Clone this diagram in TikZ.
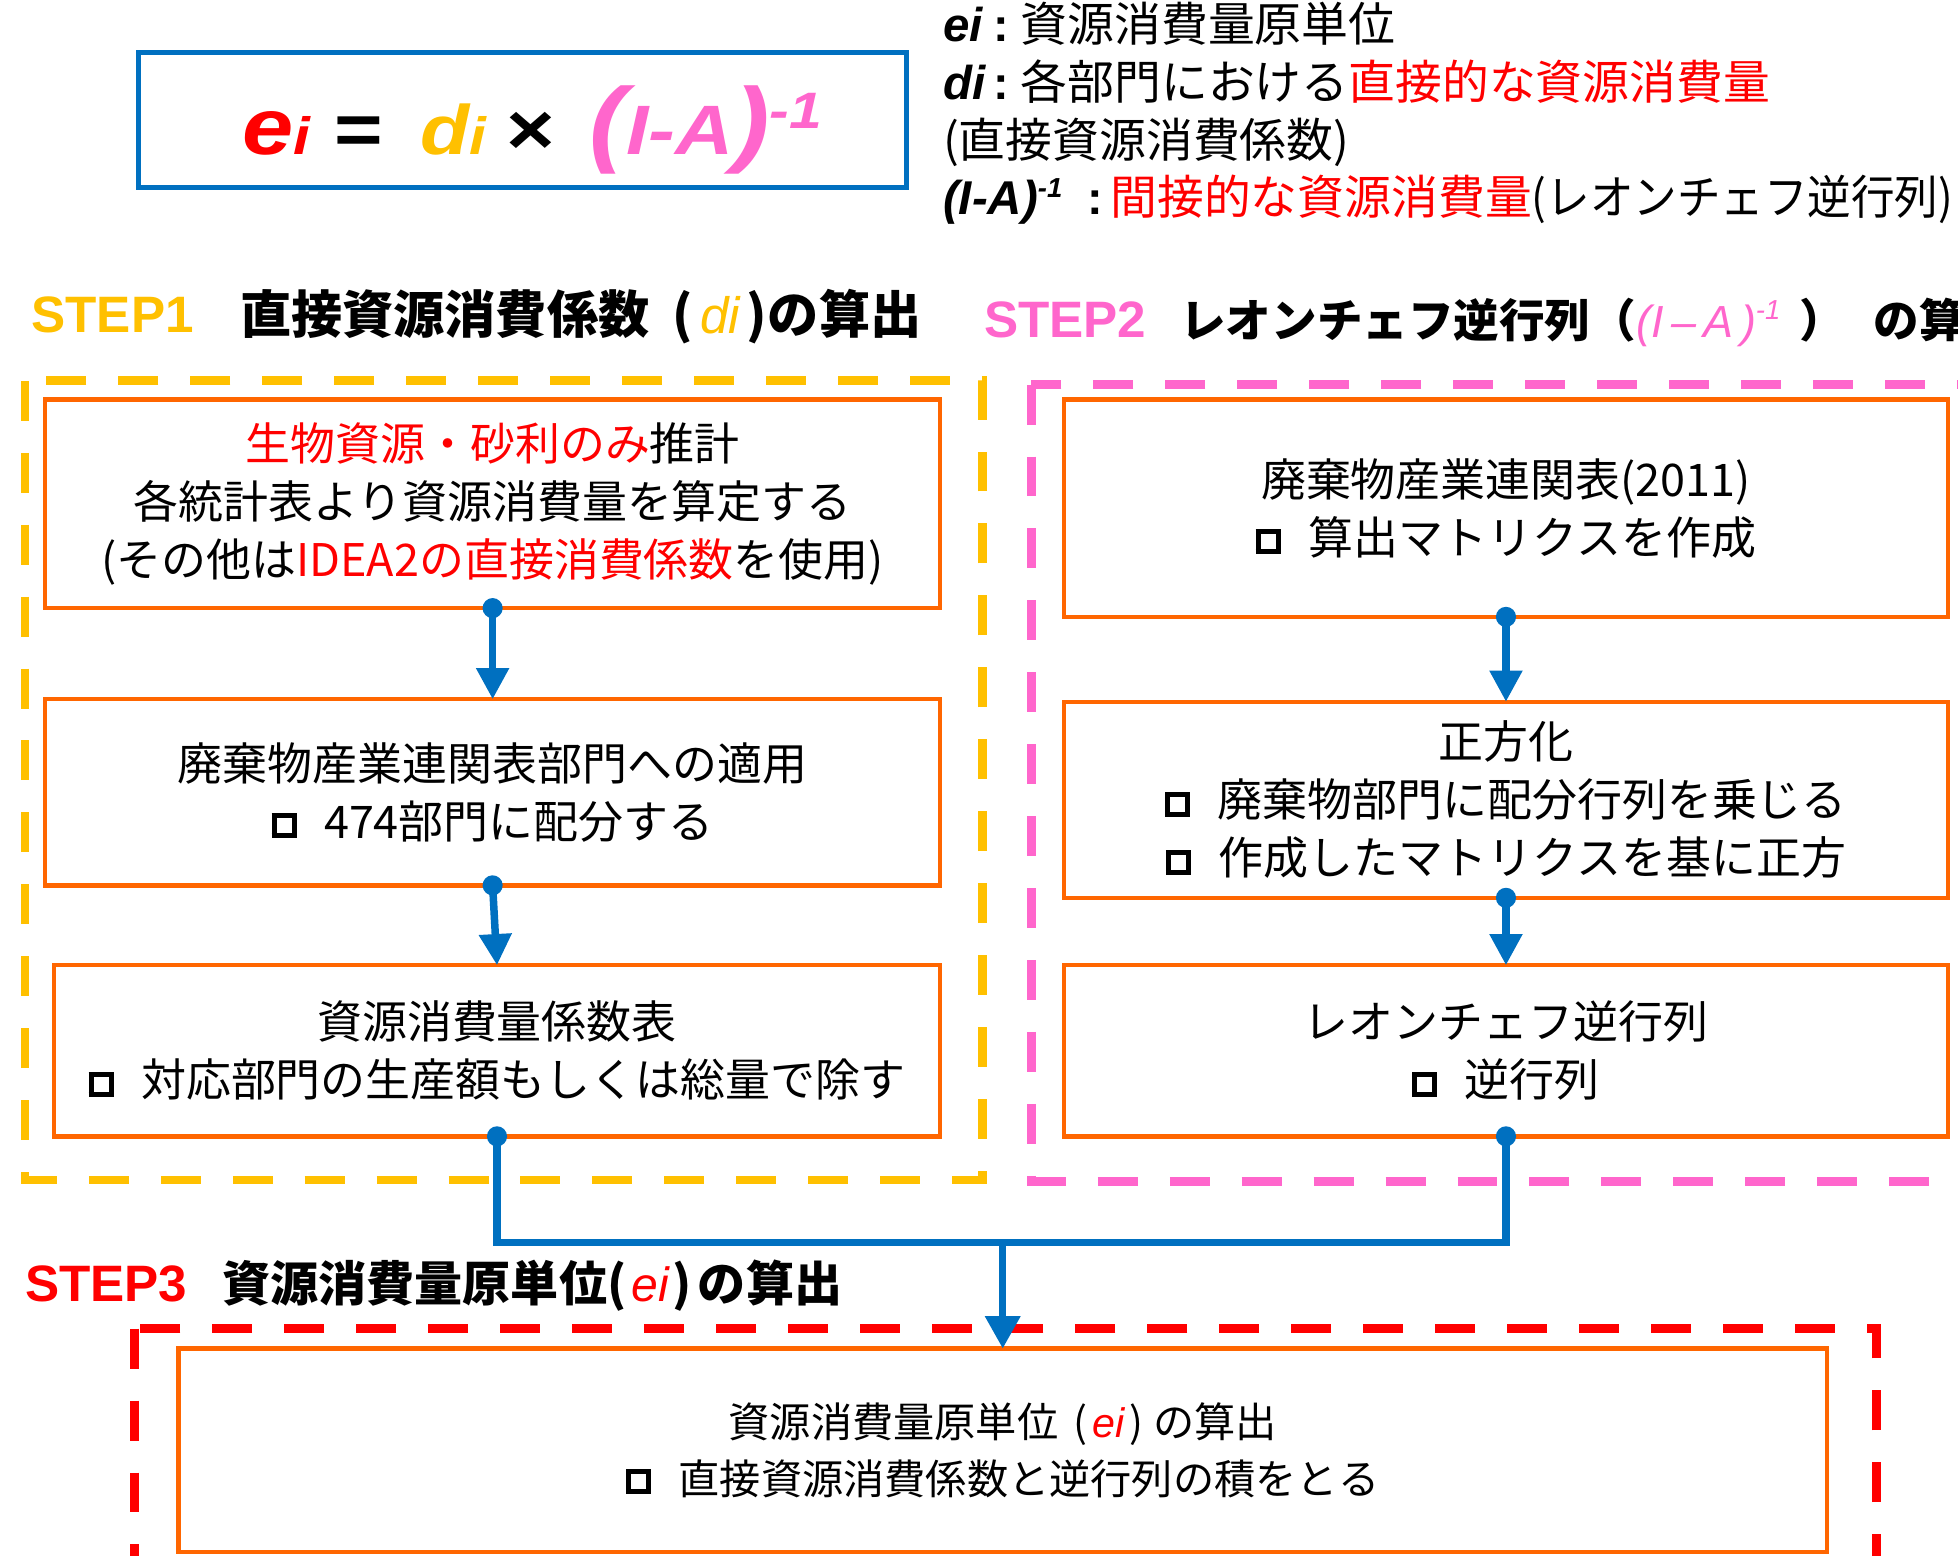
\documentclass[tikz,border=0pt]{standalone}
\usepackage{fontspec}
\setmainfont{Liberation Sans}
\newfontfamily\cjk{Noto Sans CJK JP}
\newfontfamily\lat{Liberation Sans}
\usetikzlibrary{arrows.meta}
\definecolor{fblue}{RGB}{0,112,192}
\definecolor{fyel}{RGB}{255,192,0}
\definecolor{fpink}{RGB}{255,102,204}
\definecolor{fred}{RGB}{255,0,0}
\definecolor{forange}{RGB}{255,102,0}
\newcommand\sqb{\raisebox{10pt}{\fboxsep=6pt\fboxrule=4pt\fbox{\hbox{}}}\hspace{22pt}}
\newcommand\lbi[1]{{\lat\bfseries\itshape\fontsize{38}{38}\selectfont #1}}
\newcommand\li[1]{{\lat\itshape #1}}
\tikzset{
  obox/.style={draw=forange, line width=3.5pt, inner sep=0pt, outer sep=0pt, align=center,
    font={\cjk\fontsize{36}{46.5}\selectfont}},
  leg/.style={anchor=base west, inner sep=0pt, font={\cjk\fontsize{37.5}{37.5}\selectfont}},
  stepl/.style={anchor=base west, inner sep=0pt, font={\lat\bfseries\fontsize{41}{41}\selectfont}},
  stept/.style={anchor=base west, inner sep=0pt},
  dashbox/.style={line width=7pt, dash pattern=on 32pt off 25.6pt},
  conn/.style={draw=fblue, line width=6pt, {Circle[length=16pt,width=16pt]}-{Triangle[length=25pt,width=25pt]}, shorten <=-8pt},
  mline/.style={draw=fblue, line width=6pt, {Circle[length=16pt,width=16pt]}-{Circle[length=16pt,width=16pt]}, shorten <=-8pt, shorten >=-8pt},
  arrline/.style={draw=fblue, line width=6pt, -{Triangle[length=26pt,width=27pt]}},
}
\begin{document}
\begin{tikzpicture}[x=1pt,y=-1pt]
\useasboundingbox (0,0) rectangle (1568,1246);
\fill[white] (0,0) rectangle (1568,1246);
\clip (0,0) rectangle (1568,1246);

% formula box
\node[draw=fblue, line width=4pt, minimum width=615pt, minimum height=108pt, inner sep=0pt] (fb) at (418.5,96) {};
\node[anchor=base west, inner sep=0pt, font=\lat\bfseries\itshape] (ft) at (194,124) {\scalebox{1.15}[1]{%
{\color{fred}\fontsize{64}{64}\selectfont e\fontsize{42}{42}\selectfont i}%
\hspace{17pt}{\upshape\fontsize{58}{58}\selectfont =}\hspace{26pt}%
{\color{fyel}\fontsize{56}{56}\selectfont d\fontsize{42}{42}\selectfont i}%
\hspace{14pt}{\upshape\fontsize{58}{58}\selectfont ×}\hspace{24pt}%
{\color{fpink}{\fontsize{76}{76}\selectfont (}{\fontsize{56}{56}\selectfont I-A}{\fontsize{76}{76}\selectfont )}\raisebox{21pt}{\fontsize{41}{41}\selectfont -1}}}};

% legend
\node[leg] (l1) at (755,33) {\lbi{ei}\hspace{9pt}{\lat\bfseries :}\hspace{9pt}資源消費量原単位};
\node[leg] (l2) at (755,80) {\lbi{di}\hspace{7pt}{\lat\bfseries :}\hspace{9pt}各部門における{\color{fred}直接的な資源消費量}};
\node[leg] (l3) at (755,126) {(直接資源消費係数)};
\node[leg] (l4) at (755,172) {\lbi{(I-A)}\raisebox{14pt}{\lat\bfseries\itshape\fontsize{22}{22}\selectfont -1}\hspace{20pt}{\lat\bfseries :}\hspace{6pt}{\color{fred}間接的な資源消費量}\scalebox{0.93}[1]{(レオンチェフ逆行列)}};

% headings
\node[stepl, text=fyel] (h1s) at (25,266) {STEP1};
\node[stept, font={\cjk\bfseries\fontsize{41}{41}\selectfont}] (h1t) at (192,267) {直接資源消費係数\hspace{18pt}(\hspace{6pt}{\lat\mdseries\itshape\color{fyel}di}\hspace{5pt})\hspace{1pt}の算出};
\node[stepl, text=fpink] (h2s) at (788,270) {STEP2};
\node[stept, font={\cjk\bfseries\fontsize{36.5}{36.5}\selectfont}] (h2t) at (945,270) {レオンチェフ逆行列（{\lat\mdseries\itshape\color{fpink}\fontsize{36}{36}\selectfont (I\,–\,A\,)\raisebox{14pt}{\fontsize{22}{22}\selectfont -1}}\hspace{15pt}）\hspace{23pt}の算出};
\node[stepl, text=fred] (h3s) at (20,1042) {STEP3};
\node[stept, font={\cjk\bfseries\fontsize{38.5}{38.5}\selectfont}] (h3t) at (178,1042) {資源消費量原単位(\hspace{4pt}{\lat\mdseries\itshape\color{fred}ei}\hspace{3pt})\hspace{5pt}の算出};

% dashed group frames
\draw[dashbox, fyel] (20,305) rectangle (787,945);
\draw[dashbox, fpink] (826,308) rectangle (1640,946);
\draw[dashbox, fred] (108,1064) rectangle (1503,1300);

% step 1 boxes
\node[obox, minimum width=717pt, minimum height=167pt] (b1) at (394.5,403.5)
  {{\color{fred}生物資源・砂利のみ}推計\\各統計表より資源消費量を算定する\\(その他は{\color{fred}IDEA2の直接消費係数}を使用)};
\node[obox, minimum width=717pt, minimum height=149pt] (b2) at (394.5,634.5)
  {廃棄物産業連関表部門への適用\\\sqb 474部門に配分する};
\node[obox, minimum width=710pt, minimum height=137pt] (b3) at (398,841.5)
  {資源消費量係数表\\\sqb 対応部門の生産額もしくは総量で除す};

% step 2 boxes
\node[obox, minimum width=708pt, minimum height=174pt] (r1) at (1206,407)
  {廃棄物産業連関表(2011)\\\sqb 算出マトリクスを作成};
\node[obox, minimum width=708pt, minimum height=157pt] (r2) at (1206,640.5)
  {正方化\\\sqb 廃棄物部門に配分行列を乗じる\\\sqb 作成したマトリクスを基に正方};
\node[obox, minimum width=708pt, minimum height=137pt] (r3) at (1206,841.5)
  {レオンチェフ逆行列\\\sqb 逆行列};

% step 3 box
\node[obox, minimum width=1320pt, minimum height=163pt, font={\cjk\fontsize{33}{45}\selectfont}] (b4) at (803,1161.5)
  {資源消費量原単位\hspace{12pt}(\hspace{4pt}\li{\color{fred}ei}\hspace{4pt})\hspace{8pt}の算出\\\sqb 直接資源消費係数と逆行列の積をとる};

% connectors
\draw[conn] (b1.south) -- (b2.north);
\draw[conn] (b2.south) -- (b3.north);
\draw[conn] (r1.south) -- (r2.north);
\draw[conn] (r2.south) -- (r3.north);
\coordinate (mj) at (803,995);
\draw[mline] (b3.south) |- (mj) -| (r3.south);
\draw[arrline] (mj) -- (b4.north);
\end{tikzpicture}
\end{document}
